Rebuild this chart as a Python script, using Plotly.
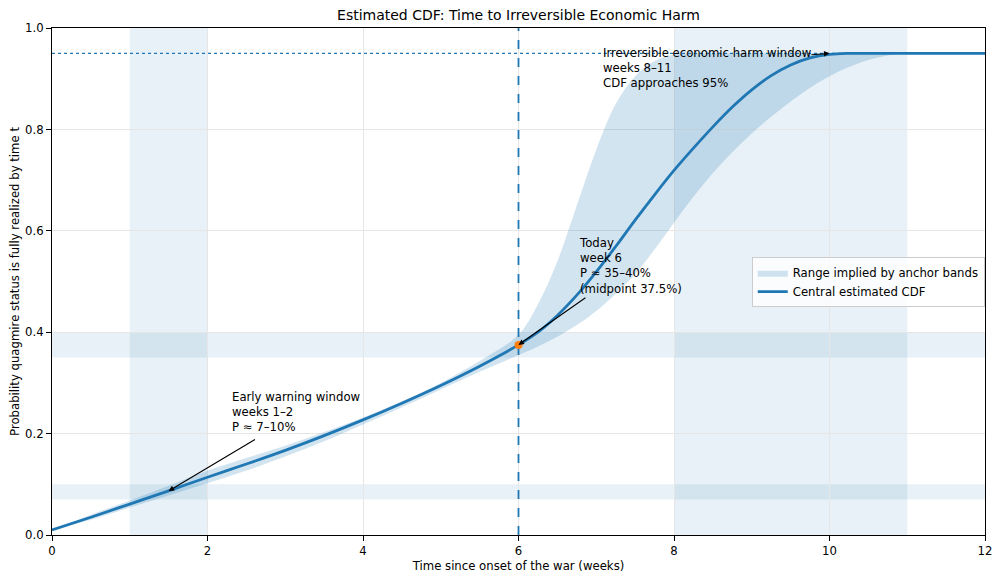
import plotly.graph_objects as go

# weeks since onset and the estimated CDF
weeks = [0, 0.5, 1, 1.5, 2, 2.5, 3, 3.5, 4, 4.5, 5, 5.5, 6, 6.25, 6.5, 6.75, 7, 7.25, 7.5, 7.75,
         8, 8.25, 8.5, 8.75, 9, 9.25, 9.5, 9.75, 10, 10.25, 10.5, 10.75, 11, 11.5, 12]
central = [0.010, 0.035, 0.061, 0.087, 0.114, 0.140, 0.167, 0.196, 0.227, 0.260, 0.295, 0.333,
           0.375, 0.400, 0.433, 0.473, 0.519, 0.569, 0.621, 0.671,
           0.719, 0.763, 0.805, 0.844, 0.878, 0.906, 0.927, 0.941, 0.948, 0.950, 0.950, 0.950,
           0.950, 0.950, 0.950]
upper = [0.010, 0.040, 0.068, 0.097, 0.127, 0.152, 0.176, 0.203, 0.232, 0.264, 0.300, 0.343,
         0.395, 0.455, 0.540, 0.650, 0.760, 0.850, 0.905, 0.935,
         0.947, 0.950, 0.950, 0.950, 0.950, 0.950, 0.950, 0.950, 0.950, 0.950, 0.950, 0.950,
         0.950, 0.950, 0.950]
lower = [0.010, 0.030, 0.054, 0.078, 0.102, 0.127, 0.155, 0.185, 0.218, 0.252, 0.287, 0.322,
         0.355, 0.372, 0.391, 0.414, 0.442, 0.476, 0.515, 0.563,
         0.616, 0.667, 0.714, 0.755, 0.792, 0.825, 0.855, 0.882, 0.905, 0.923, 0.937, 0.946,
         0.950, 0.950, 0.950]

today_week = 6
today_p = 0.375
plateau = 0.95
week_windows = [(1, 2), (8, 11)]
anchor_bands = [(0.07, 0.10), (0.35, 0.40)]

blue = "#1f77b4"
font = "DejaVu Sans"
fs = 11.7

fig = go.Figure()

fig.add_trace(go.Scatter(x=[0, 12], y=[plateau, plateau], mode="lines",
                         line=dict(color=blue, width=1.2, dash="dot"), showlegend=False, hoverinfo="skip"))
fig.add_trace(go.Scatter(x=weeks, y=lower, mode="lines", line=dict(width=0, shape="spline", smoothing=1),
                         showlegend=False, hoverinfo="skip"))
fig.add_trace(go.Scatter(x=weeks, y=upper, mode="lines", line=dict(width=0, shape="spline", smoothing=1),
                         fill="tonexty", fillcolor="rgba(31,119,180,0.2)", name="Range implied by anchor bands"))
fig.add_trace(go.Scatter(x=weeks, y=central, mode="lines", line=dict(color=blue, width=2.8, shape="spline", smoothing=1),
                         name="Central estimated CDF"))
fig.add_trace(go.Scatter(x=[today_week, today_week], y=[0, 1], mode="lines",
                         line=dict(color=blue, width=1.8, dash="dash"), showlegend=False, hoverinfo="skip"))
fig.add_trace(go.Scatter(x=[today_week], y=[today_p], mode="markers",
                         marker=dict(color="#ff7f0e", size=8), showlegend=False))

for x0, x1 in week_windows:
    fig.add_shape(type="rect", x0=x0, x1=x1, y0=0, y1=1, xref="x", yref="y domain",
                  fillcolor="rgba(31,119,180,0.1)", line=dict(width=0), layer="below")
for y0, y1 in anchor_bands:
    fig.add_shape(type="rect", x0=0, x1=1, y0=y0, y1=y1, xref="x domain", yref="y",
                  fillcolor="rgba(31,119,180,0.1)", line=dict(width=0), layer="below")

notes = [
    ("Early warning window<br>weeks 1–2<br>P ≈ 7–10%", 2.3, 0.198, 1.5, 0.087, 2.63, 0.19),
    ("Today<br>week 6<br>P ≈ 35–40%<br>(midpoint 37.5%)", 6.77, 0.47, 6.0, 0.375, 6.88, 0.47),
    ("Irreversible economic harm window<br>weeks 8–11<br>CDF approaches 95%", 7.08, 0.875, 10.0, 0.95, 9.75, 0.947),
]
for text, tx, ty, hx, hy, ax, ay in notes:
    fig.add_annotation(x=tx, y=ty, text=text, showarrow=False, xanchor="left", yanchor="bottom",
                       align="left", font=dict(size=fs, color="black"), borderpad=0)
    fig.add_annotation(x=hx, y=hy, ax=ax, ay=ay, axref="x", ayref="y", text="", showarrow=True,
                       arrowhead=2, arrowsize=1, arrowwidth=1.1, arrowcolor="black")

axis_style = dict(showline=True, linecolor="black", linewidth=1, mirror=True, ticks="outside",
                  ticklen=5, tickcolor="black", showgrid=True, gridcolor="#e6e6e6", zeroline=False,
                  tickfont=dict(size=fs, color="black"), automargin=False)
fig.update_xaxes(range=[0, 12], dtick=2,
                 title=dict(text="Time since onset of the war (weeks)", font=dict(size=fs), standoff=4),
                 **axis_style)
fig.update_yaxes(range=[0, 1], dtick=0.2, tickformat=".1f",
                 title=dict(text="Probability quagmire status is fully realized by time t", font=dict(size=fs), standoff=6),
                 **axis_style)

# the page body adds an 8px margin, so the figure is 8px smaller than the window
fig.update_layout(
    width=992, height=572,
    margin=dict(l=44, r=15, t=20, b=45),
    plot_bgcolor="white", paper_bgcolor="white",
    font=dict(family=font, color="black"),
    title=dict(text="Estimated CDF: Time to Irreversible Economic Harm", x=0.5, xref="paper",
               y=0.988, yref="container", yanchor="middle", font=dict(size=14), automargin=False),
    legend=dict(x=0.75, y=0.548, xanchor="left", yanchor="top", bordercolor="#cccccc", borderwidth=1,
                bgcolor="rgba(255,255,255,0.8)", font=dict(size=fs), traceorder="normal"),
    showlegend=True,
)

fig.write_html("out.html")
